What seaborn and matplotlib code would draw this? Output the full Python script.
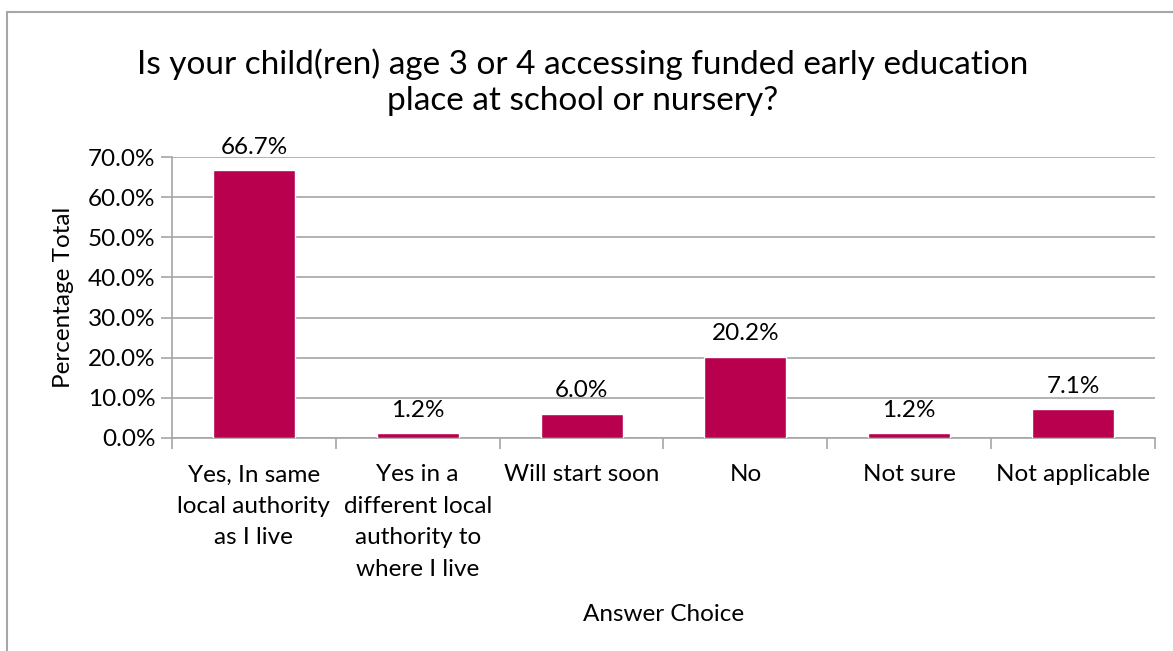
import matplotlib
matplotlib.use("Agg")
import matplotlib.pyplot as plt
from matplotlib.lines import Line2D
from matplotlib.ticker import FixedLocator, FuncFormatter
import seaborn as sns
import pandas as pd

categories = [
    "Yes, In same\nlocal authority\nas I live",
    "Yes in a\ndifferent local\nauthority to\nwhere I live",
    "Will start soon",
    "No",
    "Not sure",
    "Not applicable",
]
values = [66.7, 1.2, 6.0, 20.2, 1.2, 7.1]
value_labels = ["66.7%", "1.2%", "6.0%", "20.2%", "1.2%", "7.1%"]
y_ticks = [0, 10, 20, 30, 40, 50, 60, 70]
title = "Is your child(ren) age 3 or 4 accessing funded early education\nplace at school or nursery?"

sns.set_theme(style="white")
plt.rcParams["font.family"] = ["Lato", "DejaVu Sans"]

BAR = "#B9004E"
GRID = "#A6A6A6"
FS = 17.5

W, H = 1173, 651
fig = plt.figure(figsize=(W / 100, H / 100), dpi=100)
ax = fig.add_axes([172 / W, 1 - 438 / H, (1155 - 172) / W, (438 - 157) / H])

df = pd.DataFrame({"cat": categories, "val": values})
sns.barplot(data=df, x="cat", y="val", color=BAR, saturation=1, width=0.5, ax=ax, zorder=3)

ax.set_ylim(0, 70)
ax.set_xlim(-0.5, len(categories) - 0.5)
ax.yaxis.set_major_locator(FixedLocator(y_ticks))
ax.yaxis.set_major_formatter(FuncFormatter(lambda v, p: f"{v:.1f}%"))
ax.grid(axis="y", color=GRID, linewidth=1.2, zorder=0)
ax.grid(axis="x", visible=False)
for s in ["top", "right"]:
    ax.spines[s].set_visible(False)
for s in ["left", "bottom"]:
    ax.spines[s].set_color(GRID)
    ax.spines[s].set_linewidth(1.2)

ax.tick_params(axis="y", which="major", left=True, length=8, width=1.2, color=GRID,
               labelsize=FS, labelcolor="black", pad=4)
ax.tick_params(axis="x", which="major", bottom=False, labelsize=FS, labelcolor="black", pad=13)
ax.set_xticks([i - 0.5 for i in range(len(categories) + 1)], minor=True)
ax.tick_params(axis="x", which="minor", bottom=True, length=8, width=1.2, color=GRID)
for lbl in ax.get_xticklabels():
    lbl.set_linespacing(1.62)

ax.set_xlabel("Answer Choice", fontsize=FS, color="black", labelpad=17)
ax.set_ylabel("Percentage Total", fontsize=FS, color="black", labelpad=10)

for i, (v, t) in enumerate(zip(values, value_labels)):
    ax.annotate(t, (i, v), xytext=(0, 9), textcoords="offset points",
                ha="center", va="bottom", fontsize=FS, color="black")

fig.text(583 / W, 1 - 82 / H, title, ha="center", va="center", fontsize=24,
         color="black", linespacing=1.25)

fig.add_artist(Line2D([7 / W, 7 / W], [0, 1 - 12 / H], color=GRID, linewidth=1.5,
                      transform=fig.transFigure))
fig.add_artist(Line2D([7 / W, 1], [1 - 12 / H, 1 - 12 / H], color=GRID, linewidth=1.5,
                      transform=fig.transFigure))

fig.savefig("out.png", dpi=100, facecolor="white")
